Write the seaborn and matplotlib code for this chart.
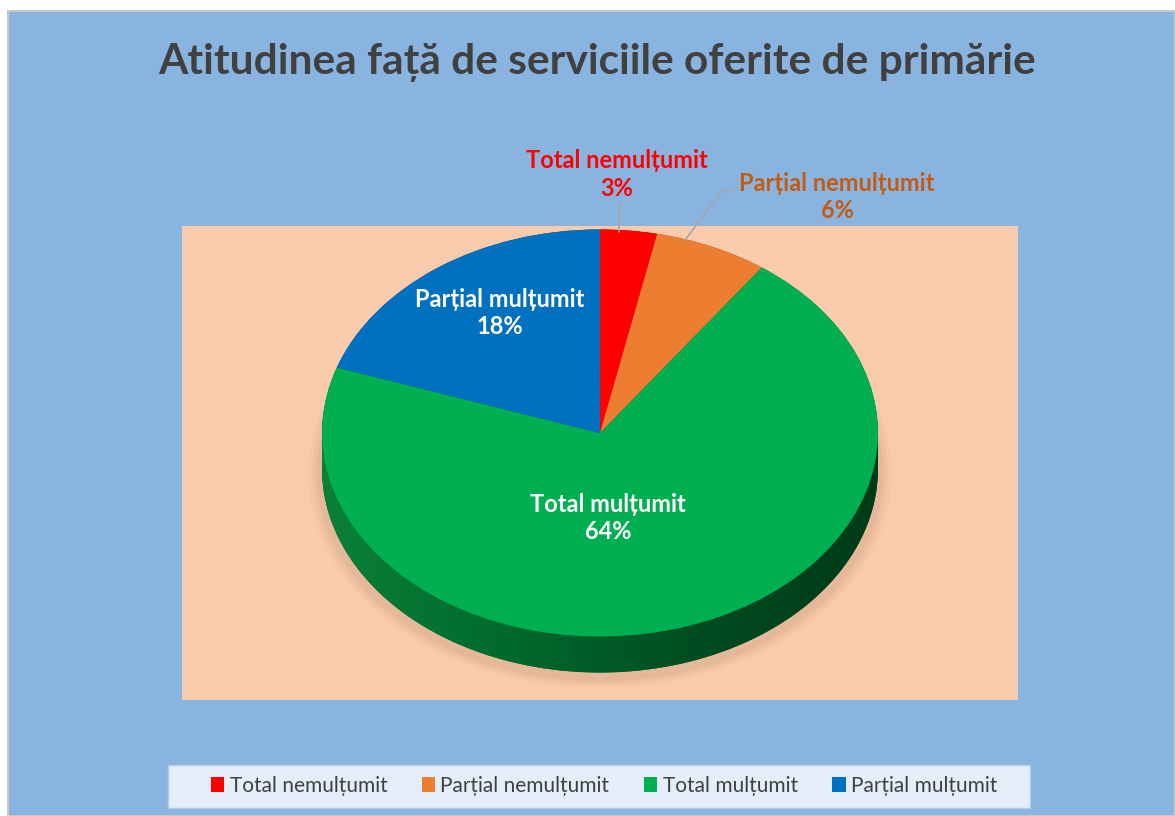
import matplotlib
matplotlib.use("Agg")
import matplotlib.pyplot as plt
import matplotlib.patches as mpatches
from matplotlib.colors import LinearSegmentedColormap
import numpy as np
import seaborn as sns

# ------------------------------------------------------------
# Date
# ------------------------------------------------------------
categorii = ["Total nemulțumit", "Parțial nemulțumit", "Total mulțumit", "Parțial mulțumit"]
procente = [3, 6, 64, 18]
etichete = ["3%", "6%", "64%", "18%"]
culori = ["#FF0000", "#ED7D31", "#00B050", "#0070C0"]
culori_lateral = ["#990000", "#8E4A1D", "#00622C", "#004373"]

sns.set_theme(style="white")
plt.rcParams["font.family"] = ["Lato", "DejaVu Sans"]

W, H = 1175, 816
fig = plt.figure(figsize=(W / 100, H / 100), dpi=100, facecolor="white")

# fundal albastru + zona peach + caseta legendei
fig.patches.append(mpatches.Rectangle((8 / W, 0), 1 - 8 / W, 1 - 11 / H, transform=fig.transFigure,
                                      facecolor="#8AB4E0", edgecolor="#C8C8C8", lw=1.5, zorder=-2))
fig.patches.append(mpatches.Rectangle((182 / W, 116 / H), 836 / W, 474 / H, transform=fig.transFigure,
                                      facecolor="#F8CBAD", edgecolor="none", zorder=-1))
fig.patches.append(mpatches.Rectangle((168 / W, 8 / H), 862 / W, 43 / H, transform=fig.transFigure,
                                      facecolor="#E3EEF8", edgecolor="#B4CDE6", lw=1, zorder=-1))

ax = fig.add_axes([182 / W, 116 / H, 836 / W, 474 / H])
ax.patch.set_alpha(0)

adancime = 0.177

# umbra usoara sub placinta
for k, a in zip([1.05, 1.035, 1.02], [0.04, 0.05, 0.07]):
    ax.add_patch(mpatches.Ellipse((0.0, -adancime - 0.025), 2 * k, 2 * k, facecolor="#8A5A3A",
                                  alpha=a, edgecolor="none", zorder=0))

# partea laterala a "cilindrului" (3D)
n = 25
for i in range(n + 1):
    dy = adancime * (1 - i / n)
    w_lat, _ = ax.pie(procente, colors=culori_lateral, startangle=90, counterclock=False,
                      center=(0, -dy), radius=1, wedgeprops=dict(linewidth=0))
    for w in w_lat:
        w.set_zorder(1)

# degrade orizontal pe partea laterala vizibila
t = np.linspace(np.pi, 2 * np.pi, 200)
sus = np.column_stack([np.cos(t), np.sin(t)])
jos = np.column_stack([np.cos(t[::-1]), np.sin(t[::-1]) - adancime])
inel = mpatches.Polygon(np.vstack([sus, jos]), closed=True, facecolor="none", edgecolor="none")
ax.add_patch(inel)
cmap_lat = LinearSegmentedColormap.from_list("lat", ["#0B8039", "#006A2C", "#004D21", "#003A18"])
img = ax.imshow(np.linspace(0, 1, 256)[None, :], cmap=cmap_lat, aspect="auto",
                extent=(-1, 1, -1 - adancime, 0), zorder=2, interpolation="bilinear")
img.set_clip_path(inel)

wedges, _ = ax.pie(procente, colors=culori, startangle=90, counterclock=False,
                   center=(0, 0), radius=1, wedgeprops=dict(linewidth=0))
for w in wedges:
    w.set_zorder(3)

ax.set_aspect("auto")
ax.set_xlim(-1.504, 1.504)
ax.set_ylim(-1.312, 1.017)
ax.axis("off")

# etichete
fs = 17
stil = dict(fontsize=fs, fontweight="bold", ha="center", va="center", linespacing=1.25, zorder=5)
ax.text(0.061, 1.27, f"{categorii[0]}\n{etichete[0]}", color="#FF0000", **stil)
ax.text(0.853, 1.16, f"{categorii[1]}\n{etichete[1]}", color="#C55A11", **stil)
ax.text(-0.36, 0.59, f"{categorii[3]}\n{etichete[3]}", color="white", **stil)
ax.text(0.029, -0.418, f"{categorii[2]}\n{etichete[2]}", color="white", **stil)

# linii de legatura
ax.plot([0.068, 0.068], [1.135, 0.988], color="#A6A6A6", lw=1.2, clip_on=False, zorder=4)
ax.plot([0.478, 0.442, 0.306], [1.194, 1.194, 0.948], color="#A6A6A6", lw=1.2, clip_on=False, zorder=4)

# titlu
fig.text(597.5 / W, 1 - 62 / H, "Atitudinea față de serviciile oferite de primărie",
         ha="center", va="center", fontsize=30.5, fontweight="bold", color="#404040")

# legenda
leg = fig.legend(wedges, categorii, loc="center", bbox_to_anchor=(604 / W, 1 - 786 / H),
                 ncol=4, fontsize=15, frameon=False,
                 handlelength=0.65, handleheight=0.75, handletextpad=0.25, columnspacing=1.65)
for t in leg.get_texts():
    t.set_color("#404040")

fig.savefig("out.png", dpi=100, facecolor="white")
